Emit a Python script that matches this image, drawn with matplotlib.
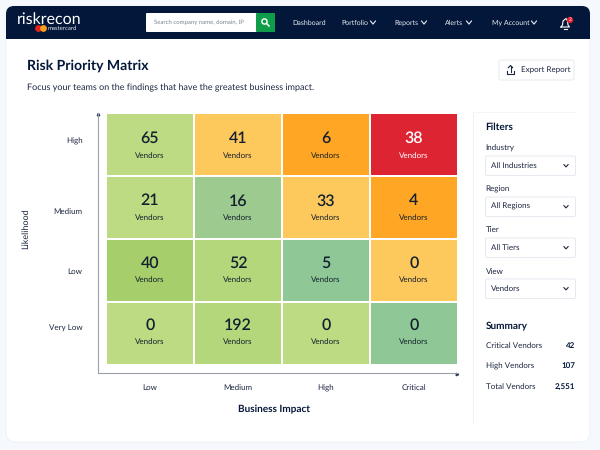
import numpy as np
import matplotlib
matplotlib.use('Agg')
import matplotlib.pyplot as plt
from matplotlib.colors import ListedColormap
from matplotlib.patches import FancyBboxPatch, Circle

plt.rcParams['font.family'] = ['Lato', 'DejaVu Sans']
plt.rcParams['text.hinting'] = 'none'
plt.rcParams['text.hinting_factor'] = 1

# matrix data, rows top to bottom
likelihood = ['High', 'Medium', 'Low', 'Very Low']
impact = ['Low', 'Medium', 'High', 'Critical']
vendors = [[65, 41, 6, 38],
           [21, 16, 33, 4],
           [40, 52, 5, 0],
           [0, 192, 0, 0]]
# index into cell_palette for each cell
cell_level = [[2, 5, 6, 7],
              [2, 1, 5, 6],
              [4, 3, 0, 5],
              [2, 3, 2, 0]]
cell_palette = ['#8fc896', '#9dcb8f', '#bcdb83', '#b4d77b', '#a6cf6b', '#fec95c', '#ffa725', '#dc2433']

nav_items = ['Dashboard', 'Portfolio', 'Reports', 'Alerts', 'My Account']
filter_names = ['Industry', 'Region', 'Tier', 'View']
filter_values = ['All Industries', 'All Regions', 'All Tiers', 'Vendors']
summary_names = ['Critical Vendors', 'High Vendors', 'Total Vendors']
summary_values = ['42', '107', '2,551']

NAVY = '#03173a'
INK = '#1c2640'
W, H = 600, 450

fig = plt.figure(figsize=(6, 4.5), dpi=100, facecolor='#f5f8fd')

# page chrome lives on a full size axes in pixel coords
bg = fig.add_axes([0, 0, 1, 1])
bg.set_xlim(0, W)
bg.set_ylim(H, 0)
bg.axis('off')


def box(x0, y0, x1, y1, fc='white', ec='none', lw=0.8, r=1.5, z=2):
    p = FancyBboxPatch((x0 + r, y0 + r), x1 - x0 - 2 * r, y1 - y0 - 2 * r,
                       boxstyle='round,pad=%g,rounding_size=%g' % (r, r),
                       fc=fc, ec=ec, lw=lw, zorder=z)
    bg.add_patch(p)
    return p


def label(x, y, s, size=6, color=INK, ha='left', weight='normal', **kw):
    bg.text(x, y, s, fontsize=size, color=color, ha=ha, va='center', fontweight=weight, zorder=5, **kw)


def chevron(x, y, color=INK, w=2.6, h=1.6, lw=0.8):
    bg.plot([x - w, x, x + w], [y - h, y + h, y - h], color=color, lw=lw, zorder=5, solid_capstyle='round')


# white card and navbar
box(6, 6, 590, 442, fc='white', ec='#edf0f6', lw=0.6, r=10, z=1)
box(6, 6, 590, 30, fc=NAVY, r=8, z=2)
bg.fill_between([6, 590], 18, 38.5, color=NAVY, lw=0, zorder=2)

# logo
label(16.5, 19, 'riskrecon', size=11.3, color='white')
bg.add_patch(Circle((38.5, 28.5), 3.4, fc='#e2231a', ec='none', zorder=5))
bg.add_patch(Circle((43.5, 28.5), 3.4, fc='#f79e1b', ec='none', zorder=5))
label(47.5, 28.5, 'mastercard', size=4.2, color='#e8e8ee')

# search box
box(146, 13, 260, 32, fc='white', r=1)
box(256, 13, 275, 32, fc='#0f9d4a', r=1)
label(154, 22.5, 'Search company name, domain, IP', size=4.2, color='#7d8494')
bg.add_patch(Circle((264.5, 21.5), 2.6, fc='none', ec='white', lw=1, zorder=5))
bg.plot([266.5, 269], [23.5, 26], color='white', lw=1.1, zorder=5)

# nav links
nav_x = [292, 341, 394, 445, 492]
chev_x = [None, 373, 424, 469, 534]
for name, x, cx in zip(nav_items, nav_x, chev_x):
    label(x, 22.5, name, size=5.2, color='#e9ecf3')
    if cx:
        chevron(cx, 22.5, color='#e9ecf3')

# bell
bg.plot([561, 562.5, 563, 566, 567.5, 568, 569.5, 561], [27, 25, 21, 18.5, 21, 25, 27, 27], color='white', lw=0.8, zorder=5)
bg.plot([564, 566.5], [28.5, 28.5], color='white', lw=0.8, zorder=5)
bg.add_patch(Circle((570, 20), 3.2, fc='#e3202e', ec='none', zorder=6))
bg.text(570, 20, '2', fontsize=3.5, color='white', ha='center', va='center', zorder=7)

# heading
label(27, 65.5, 'Risk Priority Matrix', size=10, color=NAVY, weight='bold')
label(27, 87.5, 'Focus your teams on the findings that have the greatest business impact.', size=6.7, color=INK)

# export button
box(499, 60, 574, 80, fc='white', ec='#e6e9f0', lw=0.7, r=1.5)
bg.plot([507, 507, 514, 514], [70.5, 74, 74, 70.5], color=INK, lw=0.8, zorder=5)
bg.plot([510.5, 510.5], [71.5, 65.5], color=INK, lw=0.8, zorder=5)
bg.plot([508.3, 510.5, 512.7], [67.7, 65.5, 67.7], color=INK, lw=0.8, zorder=5)
label(521, 70, 'Export Report', size=6.1, color=INK)

# side panel
bg.plot([473, 473], [423, 112], color='#f0f2f7', lw=0.7, zorder=2)
bg.plot([473, 576], [112, 112], color='#f3f5f9', lw=0.7, zorder=2)
label(485.5, 127, 'Filters', size=7, color=NAVY, weight='bold')

filter_label_y = [148, 189, 230, 272]
filter_box_y = [156, 197, 238, 279]
for name, val, ly, by in zip(filter_names, filter_values, filter_label_y, filter_box_y):
    label(485.5, ly, name, size=6.1, color=INK)
    box(485.5, by, 575.5, by + 19.5, fc='white', ec='#e6e9f0', lw=0.7, r=1.5)
    label(491, by + 9.7, val, size=5.8, color=INK)
    chevron(566, by + 9.7, w=2.2, h=1.2)

label(485.5, 325, 'Summary', size=7, color=NAVY, weight='bold')
for name, val, y in zip(summary_names, summary_values, [346, 366, 387]):
    label(485.5, y, name, size=6, color=INK)
    label(575.5, y, val, size=6, color=NAVY, ha='right', weight='bold')

# the matrix itself
ax = fig.add_axes([106 / W, 1 - 364.5 / H, (458 - 106) / W, (364.5 - 113) / H])
ax.patch.set_alpha(0)
cmap = ListedColormap(cell_palette)
ax.pcolormesh(np.arange(5), np.arange(5), np.array(cell_level), cmap=cmap, vmin=-0.5, vmax=7.5,
              edgecolors='white', linewidth=1.4)
ax.set_xlim(0, 4)
ax.set_ylim(4, 0)

for r in range(4):
    for c in range(4):
        col = 'white' if vendors[r][c] == 38 else '#14202e'
        ax.text(c + 0.5, r + 0.41 - 0.012 * r, str(vendors[r][c]), ha='center', va='center', fontsize=11.5,
                color=col, fontweight='semibold')
        ax.text(c + 0.5, r + 0.68 - 0.012 * r, 'Vendors', ha='center', va='center', fontsize=6, color=col)

ax.spines['top'].set_visible(False)
ax.spines['right'].set_visible(False)
ax.spines['left'].set_position(('outward', 5.8))
ax.spines['bottom'].set_position(('outward', 6.1))
ax.spines['left'].set_bounds(0, 4.135)
ax.spines['bottom'].set_bounds(-0.09, 4)
ax.spines['left'].set_color('#9aa0ae')
ax.spines['bottom'].set_color('#9aa0ae')
ax.spines['left'].set_linewidth(0.8)
ax.spines['bottom'].set_linewidth(0.8)
ax.set_xticks(np.arange(4) + 0.5, impact)
ax.set_yticks([0.44, 1.56, 2.52, 3.41], likelihood)
ax.tick_params(axis='x', length=0, pad=8.2, labelsize=6.1, labelcolor=INK)
ax.tick_params(axis='y', length=0, pad=11, labelsize=6.1, labelcolor=INK)

# little arrow ends on both axis lines
bg.plot([98], [113.5], marker='^', ms=1.8, color='#30384c', zorder=5)
bg.plot([457], [373.5], marker='>', ms=1.8, color='#30384c', zorder=5)

label(274, 409, 'Business Impact', size=7, color=NAVY, ha='center', weight='bold')
bg.text(26, 229, 'Likelihood', rotation=90, fontsize=6.3, color=INK, ha='center', va='center', zorder=5)

fig.savefig('out.png', dpi=100, facecolor=fig.get_facecolor())
